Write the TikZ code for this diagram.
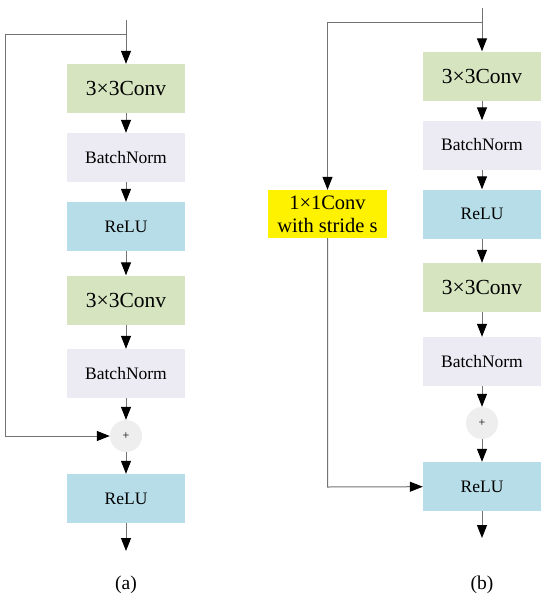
\documentclass[tikz,border=0pt]{standalone}
\usepackage{fontspec}
\setmainfont{Liberation Serif}
\usetikzlibrary{arrows.meta}
\definecolor{convgreen}{RGB}{214,228,192}
\definecolor{bnlav}{RGB}{236,234,243}
\definecolor{relublue}{RGB}{183,222,232}
\definecolor{sumgray}{RGB}{238,238,238}
\definecolor{linegray}{RGB}{115,115,115}
\tikzset{
  blk/.style={rectangle, minimum width=118pt, minimum height=49pt, inner sep=0pt, text=black},
  convb/.style={blk, fill=convgreen, font=\fontsize{21.5}{24}\selectfont},
  bnb/.style={blk, fill=bnlav, font=\fontsize{17.5}{20}\selectfont},
  relub/.style={blk, fill=relublue, font=\fontsize{17.5}{20}\selectfont},
  sumb/.style={circle, fill=sumgray, minimum size=32pt, inner sep=0pt, font=\fontsize{12}{12}\selectfont},
  yelb/.style={rectangle, fill=yellow, minimum width=119pt, minimum height=48pt, inner sep=0pt, align=center, font=\fontsize{20.5}{23}\selectfont},
  conn/.style={draw=linegray, line width=1pt},
  arr/.style={conn, -{Triangle[width=10pt,length=13pt,color=black]}},
  captxt/.style={font=\fontsize{19.5}{22}\selectfont}
}
\begin{document}
\begin{tikzpicture}[x=1pt,y=-1pt]
\useasboundingbox (0,0) rectangle (550,603);
% (a)
\node[convb] (a1) at (126,88.5) {3×3Conv};
\node[bnb] (a2) at (126,157.5) {BatchNorm};
\node[relub] (a3) at (126,226.5) {ReLU};
\node[convb] (a4) at (126,300) {3×3Conv};
\node[bnb] (a5) at (126,373.5) {BatchNorm};
\node[sumb] (as) at (126,436) {+};
\node[relub] (a6) at (126,498.5) {ReLU};
\coordinate (ain) at (126,20);
\coordinate (asp) at (126,34);
\coordinate (acorner1) at (5,34);
\coordinate (aout) at (126,551);
\draw[arr] (ain) -- (a1);
\draw[arr] (a1) -- (a2);
\draw[arr] (a2) -- (a3);
\draw[arr] (a3) -- (a4);
\draw[arr] (a4) -- (a5);
\draw[arr] (a5) -- (as);
\draw[arr] (as) -- (a6);
\draw[arr] (a6) -- (aout);
\draw[arr] (asp) -- (acorner1) |- (as);
\node[captxt] (la) at (126,585) {(a)};
% (b)
\node[convb] (b1) at (482,76) {3×3Conv};
\node[bnb] (b2) at (482,145) {BatchNorm};
\node[relub] (b3) at (482,214) {ReLU};
\node[convb] (b4) at (482,287.5) {3×3Conv};
\node[bnb] (b5) at (482,361.5) {BatchNorm};
\node[sumb] (bs) at (482,423) {+};
\node[relub] (b6) at (482,486.5) {ReLU};
\node[yelb] (by) at (327.5,214) {1×1Conv\\with stride s};
\coordinate (bin) at (482,8);
\coordinate (bsp) at (482,22);
\coordinate (bcorner1) at (327.5,22);
\coordinate (bcorner2) at (327.5,487);
\coordinate (bout) at (482,538);
\draw[arr] (bin) -- (b1);
\draw[arr] (b1) -- (b2);
\draw[arr] (b2) -- (b3);
\draw[arr] (b3) -- (b4);
\draw[arr] (b4) -- (b5);
\draw[arr] (b5) -- (bs);
\draw[arr] (bs) -- (b6);
\draw[arr] (b6) -- (bout);
\draw[arr] (bsp) -- (bcorner1) -- (by);
\draw[arr] (by) -- (bcorner2) -- (b6);
\node[captxt] (lb) at (482,585) {(b)};
\end{tikzpicture}
\end{document}
